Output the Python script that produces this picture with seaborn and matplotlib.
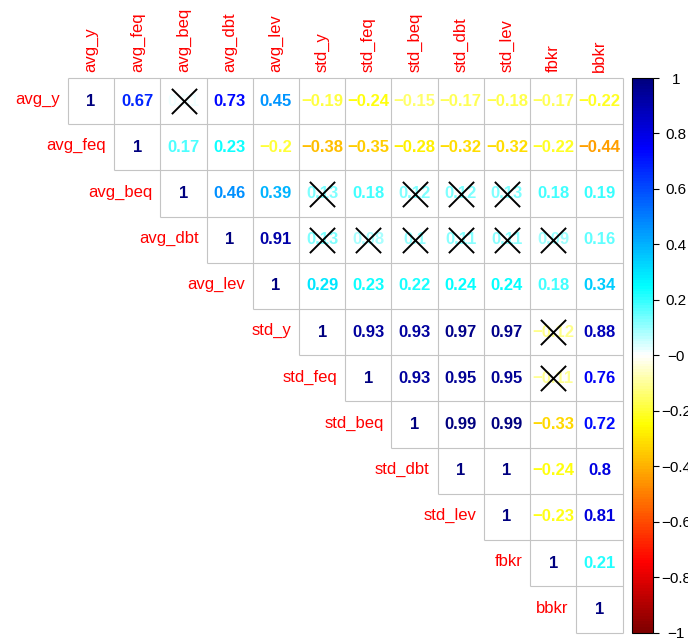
import numpy as np
import pandas as pd
import seaborn as sns
import matplotlib.pyplot as plt
from matplotlib.colors import LinearSegmentedColormap, ListedColormap, Normalize
from matplotlib.cm import ScalarMappable

variables = ['avg_y', 'avg_feq', 'avg_beq', 'avg_dbt', 'avg_lev', 'std_y',
             'std_feq', 'std_beq', 'std_dbt', 'std_lev', 'fbkr', 'bbkr']

# upper triangle, one row per variable (starting at the diagonal)
avg_y = [1, 0.67, 0.01, 0.73, 0.45, -0.19, -0.24, -0.15, -0.17, -0.18, -0.17, -0.22]
avg_feq = [1, 0.17, 0.23, -0.2, -0.38, -0.35, -0.28, -0.32, -0.32, -0.22, -0.44]
avg_beq = [1, 0.46, 0.39, 0.13, 0.18, 0.12, 0.12, 0.13, 0.18, 0.19]
avg_dbt = [1, 0.91, 0.13, 0.08, 0.1, 0.11, 0.11, 0.09, 0.16]
avg_lev = [1, 0.29, 0.23, 0.22, 0.24, 0.24, 0.18, 0.34]
std_y = [1, 0.93, 0.93, 0.97, 0.97, -0.12, 0.88]
std_feq = [1, 0.93, 0.95, 0.95, -0.11, 0.76]
std_beq = [1, 0.99, 0.99, -0.33, 0.72]
std_dbt = [1, 1, -0.24, 0.8]
std_lev = [1, -0.23, 0.81]
fbkr = [1, 0.21]
bbkr = [1]
rows = [avg_y, avg_feq, avg_beq, avg_dbt, avg_lev, std_y,
        std_feq, std_beq, std_dbt, std_lev, fbkr, bbkr]

# non-significant pairs (crossed out)
insig = [('avg_y', 'avg_beq'),
         ('avg_beq', 'std_y'), ('avg_beq', 'std_beq'), ('avg_beq', 'std_dbt'), ('avg_beq', 'std_lev'),
         ('avg_dbt', 'std_y'), ('avg_dbt', 'std_feq'), ('avg_dbt', 'std_beq'),
         ('avg_dbt', 'std_dbt'), ('avg_dbt', 'std_lev'), ('avg_dbt', 'fbkr'),
         ('std_y', 'fbkr'), ('std_feq', 'fbkr')]

n = len(variables)
mat = np.full((n, n), np.nan)
for i, r in enumerate(rows):
    mat[i, i:] = r
corr = pd.DataFrame(mat, index=variables, columns=variables)
mask = np.tril(np.ones((n, n), dtype=bool), k=-1)

col1 = LinearSegmentedColormap.from_list(
    'col1', ['#7F0000', 'red', '#FF7F00', 'yellow', 'white',
             'cyan', '#007FFF', 'blue', '#00007F'], N=200)
norm = Normalize(-1, 1)

plt.rcParams['font.family'] = ['Liberation Sans', 'DejaVu Sans']
fig = plt.figure(figsize=(6.88, 6.41), dpi=100)
ax = fig.add_axes([68 / 688, 1 - 632.5 / 641, 554.5 / 688, 554.5 / 641])
cax = fig.add_axes([632 / 688, 1 - 632.5 / 641, 21 / 688, 554.5 / 641])

sns.heatmap(corr, mask=mask, cmap=ListedColormap(['white']), cbar=False,
            linewidths=0, xticklabels=False, yticklabels=False, ax=ax)
ax.set_xlabel('')
ax.set_ylabel('')

# cell grid of the upper triangle
grid_kw = dict(color='#C4C4C4', linewidth=0.8, zorder=2, clip_on=False)
k = np.arange(n + 1)
ax.hlines(k, np.maximum(k - 1, 0), n, **grid_kw)
ax.vlines(k, 0, np.minimum(k + 1, n), **grid_kw)

def fmt(v):
    s = ('%.2f' % v).rstrip('0').rstrip('.')
    return s.replace('-', '\u2212')

for i in range(n):
    for j in range(i, n):
        v = corr.iloc[i, j]
        ax.text(j + 0.5, i + 0.5, fmt(v), ha='center', va='center',
                fontsize=12, fontweight='bold', color=col1(norm(v)))

xs = [variables.index(b) + 0.5 for a, b in insig]
ys = [variables.index(a) + 0.5 for a, b in insig]
ax.scatter(xs, ys, marker='x', s=330, color='black', linewidths=1.4, zorder=5)

for i, name in enumerate(variables):
    ax.text(i - 0.17, i + 0.47, name, ha='right', va='center',
            fontsize=12, color='red')
    ax.text(i + 0.5, -0.13, name, ha='center', va='bottom', rotation=90,
            fontsize=12, color='red')

sm = ScalarMappable(norm=norm, cmap=col1)
cb = fig.colorbar(sm, cax=cax)
ticks = np.round(np.arange(-1, 1.01, 0.2), 1)
cb.set_ticks(ticks)
cb.set_ticklabels([fmt(t) for t in ticks])
cb.ax.tick_params(labelsize=11, length=4, width=0.8, pad=12.5)
for lbl in cb.ax.get_yticklabels():
    lbl.set_horizontalalignment('center')
cb.outline.set_linewidth(0.8)

fig.savefig('out.png', dpi=100)
